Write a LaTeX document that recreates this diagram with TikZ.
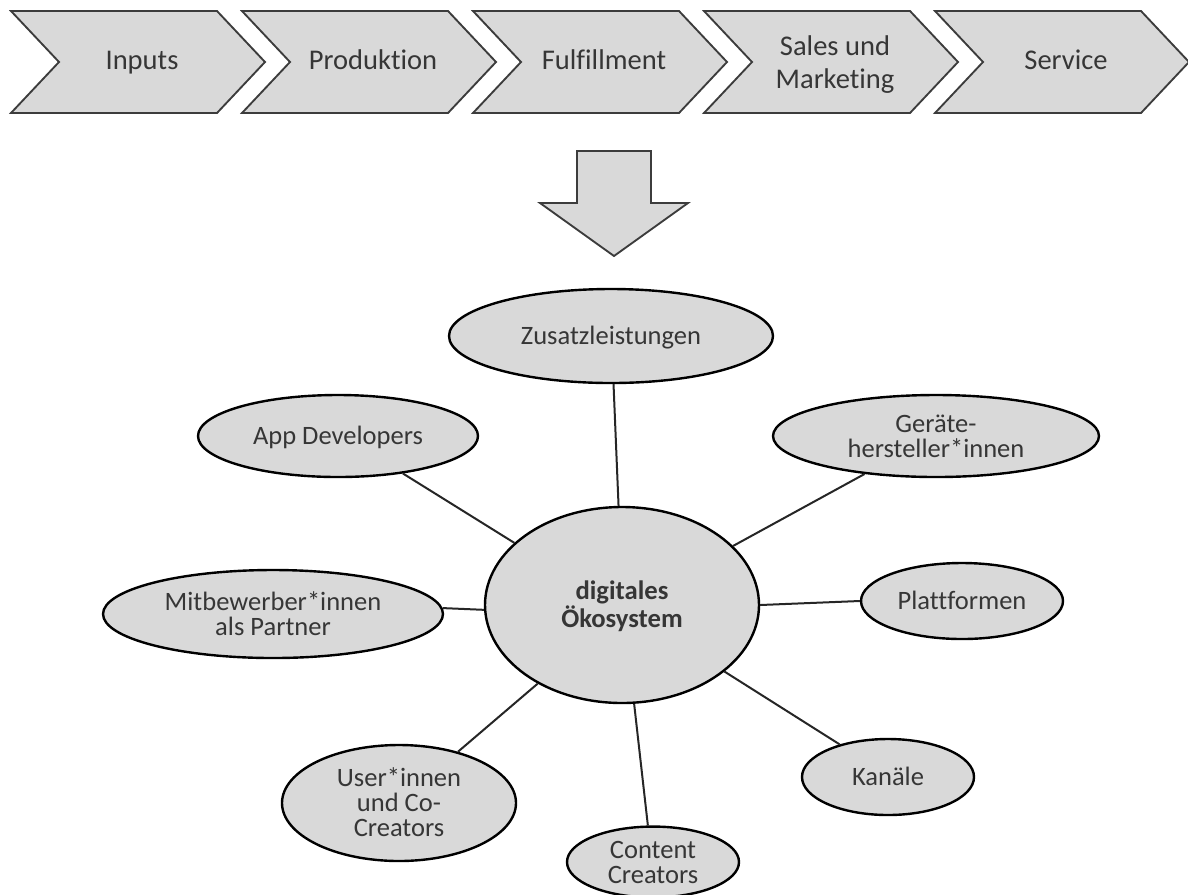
\documentclass[tikz,border=0pt]{standalone}
\usepackage{fontspec}
\setmainfont{Carlito}[Ligatures=NoCommon]
\usetikzlibrary{shapes.geometric}
\definecolor{boxfill}{HTML}{D9D9D9}
\definecolor{ink}{HTML}{363636}
\definecolor{edge}{HTML}{3C3C3C}
% strut for the bubble labels (keeps every line on a common baseline grid)
\newcommand\bstrut{\rule[-3pt]{0pt}{18.8pt}}
\begin{document}
\begin{tikzpicture}[x=0.75pt,y=-0.75pt,
  bubble/.style={ellipse, draw=black, line width=1.8pt, fill=boxfill,
    inner sep=0pt, text=ink, align=center,
    font=\fontsize{19.9}{18.8}\selectfont},
  hub/.style={bubble, font=\fontsize{20}{18}\selectfont\bfseries},
  link/.style={line width=1.5pt, draw=black!85},
  stage/.style={draw=edge, line width=1.4pt, fill=boxfill, line join=miter},
  stagetext/.style={text=ink, align=center,
    font=\fontsize{21.4}{24.8}\selectfont}]
\useasboundingbox (0,0) rectangle (1188,894);

% value chain: five chevrons
\foreach \k/\lab/\ty in {0/\strut Inputs/63, 1/\strut Produktion/63, 2/\strut Fulfillment/63,
                     3/{\strut Sales und\\\strut Marketing}/65, 4/\strut Service/63}{
  \pgfmathsetmacro{\xo}{11+231*\k}
  \draw[stage] (\xo,11) -- ++(206,0) -- ++(48,51) -- ++(-48,51)
    -- ++(-206,0) -- ++(48,-51) -- cycle;
  \node[stagetext] (stage\k) at (\xo+131,\ty) {\lab};
}

% block arrow down
\draw[stage] (577,151) -- (651,151) -- (651,203) -- (688,203)
  -- (614,256) -- (540,203) -- (577,203) -- cycle;

% ecosystem
\node[hub, minimum width={0.75*274}, minimum height={0.75*196}] (eco) at (622,605)
  {\bstrut digitales\\\bstrut Ökosystem};
\node[bubble, minimum width={0.75*324}, minimum height={0.75*94}] (zus) at (611,336)
  {\bstrut Zusatzleistungen};
\node[bubble, minimum width={0.75*280}, minimum height={0.75*82}] (app) at (338,436)
  {\bstrut App Developers};
\node[bubble, minimum width={0.75*326}, minimum height={0.75*82}] (ger) at (936,436)
  {\bstrut Geräte-\\\bstrut hersteller*innen};
\node[bubble, minimum width={0.75*202}, minimum height={0.75*76}] (pla) at (962,601)
  {\bstrut Plattformen};
\node[bubble, minimum width={0.75*340}, minimum height={0.75*88}] (mit) at (273,614)
  {\bstrut Mitbewerber*innen\\\bstrut als Partner};
\node[bubble, minimum width={0.75*172}, minimum height={0.75*76}] (kan) at (888,777)
  {\bstrut Kanäle};
\node[bubble, minimum width={0.75*172}, minimum height={0.75*68}] (con) at (653,862)
  {\bstrut Content\\\bstrut Creators};
\node[bubble, minimum width={0.75*234}, minimum height={0.75*116}] (usr) at (399,803)
  {\bstrut User*innen\\und Co-\\\bstrut Creators};

\draw[link] (eco.150) -- (app.-30);
\draw[link] (eco.92) -- (zus.-87);
\draw[link] (eco.28) -- (ger.-152);
\draw[link] (eco.0) -- (pla.180);
\draw[link] (eco.-178) -- (mit.2);
\draw[link] (eco.-33) -- (kan.146);
\draw[link] (eco.-83) -- (con.98);
\draw[link] (eco.-137) -- (usr.41);
\end{tikzpicture}
\end{document}
